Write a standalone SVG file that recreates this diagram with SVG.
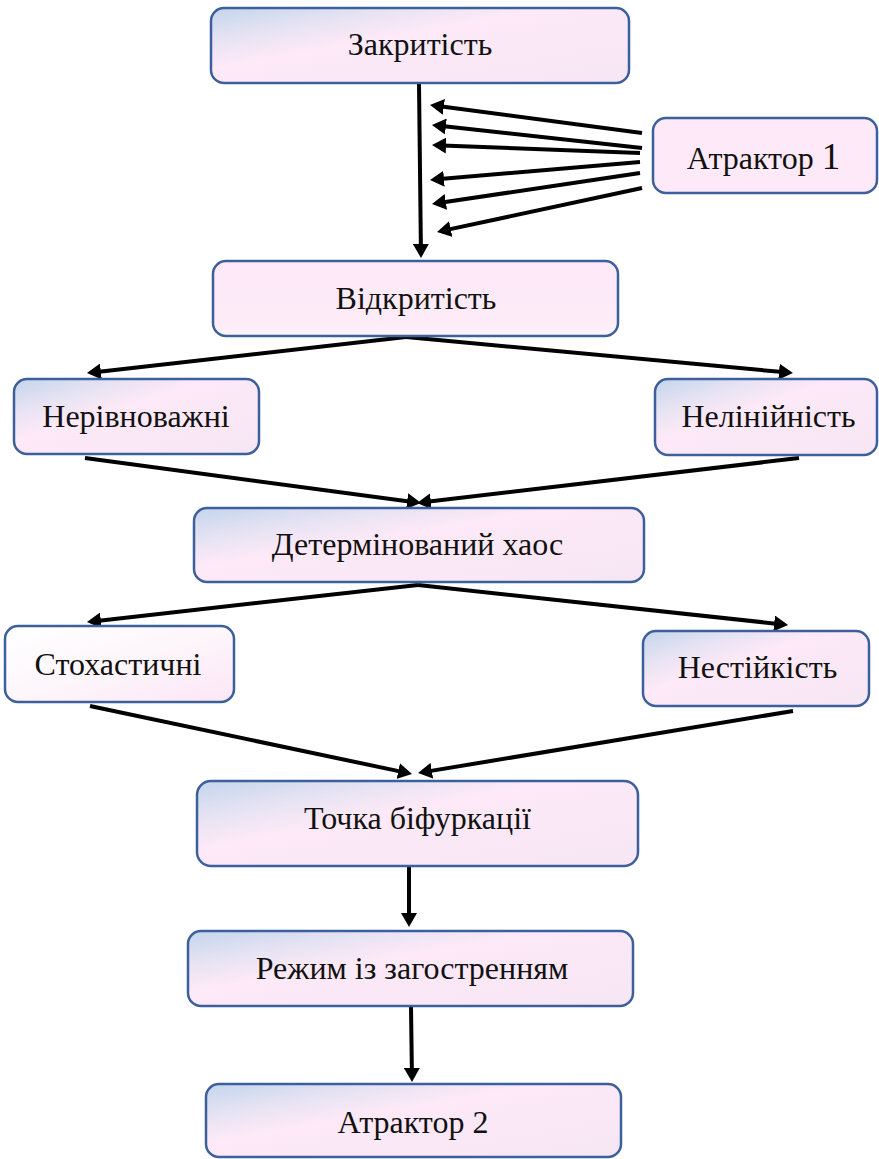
<svg xmlns="http://www.w3.org/2000/svg" width="879" height="1159" viewBox="0 0 879 1159">
<style>
.box{stroke:#3d5f9b;stroke-width:2.5}
.lbl{font-size:32px;fill:#111;text-anchor:middle}
.c{stroke:#000;stroke-width:4;fill:none;marker-end:url(#ah)}
</style>
<defs>
<linearGradient id="g1" x1="0" y1="0" x2="1" y2="1">
<stop offset="0" stop-color="#c3d5ec"/>
<stop offset="0.22" stop-color="#e6e3f3"/>
<stop offset="0.4" stop-color="#fde9f7"/>
<stop offset="1" stop-color="#f6e6f4"/>
</linearGradient>
<linearGradient id="g2" x1="0" y1="0" x2="0" y2="1">
<stop offset="0" stop-color="#fde9f7"/>
<stop offset="0.8" stop-color="#fdebf8"/>
<stop offset="1" stop-color="#fdf4fb"/>
</linearGradient>
<linearGradient id="g3" x1="0" y1="0" x2="1" y2="1">
<stop offset="0" stop-color="#ffffff"/>
<stop offset="0.5" stop-color="#fdf6fb"/>
<stop offset="1" stop-color="#fce6f5"/>
</linearGradient>
<linearGradient id="g4" x1="0" y1="0" x2="1" y2="1">
<stop offset="0" stop-color="#fde9f7"/>
<stop offset="1" stop-color="#fde9f7"/>
</linearGradient>
<marker id="ah" markerUnits="userSpaceOnUse" markerWidth="14" markerHeight="16" refX="4" refY="8" orient="auto" viewBox="0 0 14 16">
<path d="M0,0 L14,8 L0,16 z" fill="#000"/>
</marker>
</defs>

<g id="connectors">
<line class="c" x1="419" y1="84" x2="420.9" y2="248"/>
<line class="c" x1="642" y1="133" x2="439.9" y2="106.3"/>
<line class="c" x1="642" y1="148" x2="441.9" y2="126.1"/>
<line class="c" x1="640" y1="153" x2="442" y2="145.4"/>
<line class="c" x1="640" y1="162" x2="440" y2="179.1"/>
<line class="c" x1="640" y1="173" x2="441.9" y2="202.5"/>
<line class="c" x1="642" y1="188" x2="446.8" y2="229.9"/>
<line class="c" x1="406" y1="337" x2="96.9" y2="371.9"/>
<line class="c" x1="406" y1="337" x2="783" y2="372.1"/>
<line class="c" x1="85" y1="458" x2="411.1" y2="501.7"/>
<line class="c" x1="799" y1="458" x2="426.9" y2="501.8"/>
<line class="c" x1="418" y1="585" x2="96.9" y2="620.9"/>
<line class="c" x1="418" y1="585" x2="778.1" y2="623.9"/>
<line class="c" x1="90" y1="706" x2="402.2" y2="771.9"/>
<line class="c" x1="793" y1="711" x2="427.9" y2="771.4"/>
<line class="c" x1="409" y1="867" x2="409" y2="917"/>
<line class="c" x1="411" y1="1007" x2="411.9" y2="1072"/>
</g>

<g id="n-zakrytist">
<rect class="box" x="211" y="8" width="418" height="75" rx="13" fill="url(#g1)"/>
<text class="lbl" font-family="'Liberation Serif', serif" x="420" y="55">Закритість</text>
</g>
<g id="n-atraktor1">
<rect class="box" x="653" y="118" width="224" height="75" rx="13" fill="url(#g4)"/>
<text class="lbl" font-family="'Liberation Serif', serif" x="763.5" y="169">Атрактор <tspan font-size="37">1</tspan></text>
</g>
<g id="n-vidkrytist">
<rect class="box" x="213" y="261" width="405" height="75" rx="13" fill="url(#g2)"/>
<text class="lbl" font-family="'Liberation Serif', serif" x="416" y="309">Відкритість</text>
</g>
<g id="n-nerivnovazhni">
<rect class="box" x="14" y="379" width="245" height="75" rx="13" fill="url(#g1)"/>
<text class="lbl" font-family="'Liberation Serif', serif" x="136" y="427">Нерівноважні</text>
</g>
<g id="n-nelinijnist">
<rect class="box" x="655" y="379" width="222" height="76" rx="13" fill="url(#g1)"/>
<text class="lbl" font-family="'Liberation Serif', serif" x="768.5" y="427">Нелінійність</text>
</g>
<g id="n-determ">
<rect class="box" x="194" y="508" width="450" height="74" rx="13" fill="url(#g1)"/>
<text class="lbl" font-family="'Liberation Serif', serif" x="417.5" y="555">Детермінований хаос</text>
</g>
<g id="n-stokh">
<rect class="box" x="5" y="626" width="229" height="76" rx="13" fill="url(#g3)"/>
<text class="lbl" font-family="'Liberation Serif', serif" x="118" y="675">Стохастичні</text>
</g>
<g id="n-nestijkist">
<rect class="box" x="643" y="631" width="226" height="75" rx="13" fill="url(#g1)"/>
<text class="lbl" font-family="'Liberation Serif', serif" x="757.5" y="678">Нестійкість</text>
</g>
<g id="n-tochka">
<rect class="box" x="197" y="781" width="441" height="85" rx="14" fill="url(#g1)"/>
<text class="lbl" font-family="'Liberation Serif', serif" x="417.5" y="829">Точка біфуркації</text>
</g>
<g id="n-rezhym">
<rect class="box" x="188" y="931" width="445" height="75" rx="13" fill="url(#g1)"/>
<text class="lbl" font-family="'Liberation Serif', serif" x="412" y="979">Режим із загостренням</text>
</g>
<g id="n-atraktor2">
<rect class="box" x="206" y="1084" width="415" height="73" rx="13" fill="url(#g1)"/>
<text class="lbl" font-family="'Liberation Serif', serif" x="413" y="1133">Атрактор 2</text>
</g>
</svg>
